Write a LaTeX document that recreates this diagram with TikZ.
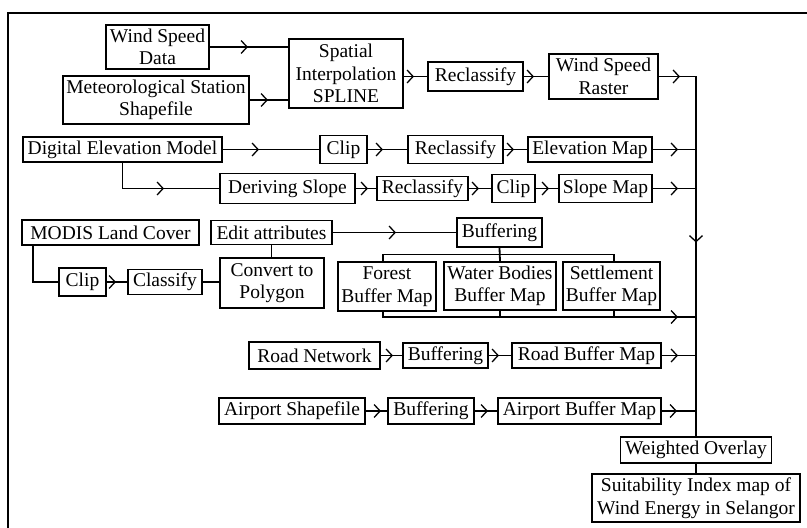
\documentclass[tikz,border=0pt]{standalone}
\usepackage{fontspec}
\setmainfont{Liberation Serif}
\usetikzlibrary{arrows.meta,decorations.markings,calc}
\tikzset{
  box/.style={draw, line width=1.9pt, inner sep=0pt, align=center, font=\fontsize{19.5}{22.5}\selectfont},
  conn/.style={line width=1.8pt, line cap=rect},
  chev/.style={decoration={markings, mark=at position #1 with {\arrow{Straight Barb[length=6pt,width=13pt,line width=1.3pt]}}}, postaction={decorate}},
}
\begin{document}
\begin{tikzpicture}[x=1pt,y=-1pt]
\useasboundingbox (0,0) rectangle (807,528);
% frame
\draw[line width=2.5pt, line join=miter] (807,13) -- (8,13) -- (8,528);

% row 1
\node[box, minimum width=103pt, minimum height=44pt] (wsd) at (157.5,47) {Wind Speed\\Data};
\node[box, minimum width=186pt, minimum height=48pt] (met) at (156,100) {Meteorological Station\\Shapefile};
\node[box, minimum width=114pt, minimum height=69pt] (spl) at (346,73.5) {Spatial\\Interpolation\\SPLINE};
\node[box, minimum width=95pt, minimum height=29pt] (rc1) at (475.5,76.5) {Reclassify};
\node[box, minimum width=109pt, minimum height=45pt] (wsr) at (603.5,76.5) {Wind Speed\\Raster};
\coordinate (bustop) at (696,76.5);

% row 2
\node[box, minimum width=199pt, minimum height=25pt] (dem) at (122.5,149.5) {Digital Elevation Model};
\node[box, minimum width=47pt, minimum height=28pt] (clip1) at (343.5,149.5) {Clip};
\node[box, minimum width=95pt, minimum height=28pt] (rc2) at (455.5,149.5) {Reclassify};
\node[box, minimum width=124pt, minimum height=25pt] (elev) at (590,149.5) {Elevation Map};

% row 3
\node[box, minimum width=135pt, minimum height=30pt] (slope) at (287.5,188.5) {Deriving Slope};
\node[box, minimum width=91pt, minimum height=24pt] (rc3) at (422.5,188.5) {Reclassify};
\node[box, minimum width=43pt, minimum height=28pt] (clip2) at (513.5,188.5) {Clip};
\node[box, minimum width=93pt, minimum height=28pt] (slopemap) at (605.5,188.5) {Slope Map};

% row 4
\node[box, minimum width=177pt, minimum height=25pt] (modis) at (110.5,232.5) {MODIS Land Cover};
\node[box, minimum width=121pt, minimum height=24pt] (edit) at (271.5,232.5) {Edit attributes};
\node[box, minimum width=85pt, minimum height=29pt] (buf1) at (499.5,232.5) {Buffering};

\node[box, minimum width=47pt, minimum height=28pt] (clip3) at (82.5,282) {Clip};
\node[box, minimum width=74pt, minimum height=25pt] (classify) at (165,282) {Classify};
\node[box, minimum width=104pt, minimum height=50pt] (conv) at (272,283) {Convert to\\Polygon};
\node[box, minimum width=98pt, minimum height=49pt] (forest) at (387,286.5) {Forest\\Buffer Map};
\node[box, minimum width=112pt, minimum height=48pt] (water) at (500,286) {Water Bodies\\Buffer Map};
\node[box, minimum width=97pt, minimum height=48pt] (settle) at (611.5,286) {Settlement\\Buffer Map};
\coordinate (bt) at (499.5,254.5);
\coordinate (bbend) at (696,317);

% road / airport
\node[box, minimum width=131pt, minimum height=27pt] (road) at (314.5,355.5) {Road Network};
\node[box, minimum width=85pt, minimum height=25pt] (buf2) at (445.5,355.5) {Buffering};
\node[box, minimum width=149pt, minimum height=25pt] (roadmap) at (586.5,355.5) {Road Buffer Map};

\node[box, minimum width=146pt, minimum height=26pt] (airport) at (292,411) {Airport Shapefile};
\node[box, minimum width=86pt, minimum height=26pt] (buf3) at (431,411) {Buffering};
\node[box, minimum width=163pt, minimum height=26pt] (airmap) at (579.5,411) {Airport Buffer Map};

% output
\node[box, minimum width=151pt, minimum height=26pt] (wo) at (696,450) {Weighted Overlay};
\node[box, minimum width=208pt, minimum height=48pt] (suit) at (696,498) {Suitability Index map of\\Wind Energy in Selangor};

% connectors row 1
\draw[conn, chev=38pt] (wsd.east) -- (wsd.east -| spl.west);
\draw[conn, chev=18pt] (met.east) -- (met.east -| spl.west);
\draw[conn, chev=10pt] (rc1.west -| spl.east) -- (rc1.west);
\draw[conn, chev=10pt] (rc1.east) -- (wsr.west);
\draw[conn, chev=-16pt] (wsr.east) -- (bustop);
\draw[conn, chev=166pt] (bustop) -- (wo.north);

% row 2
\draw[conn, chev=36pt] (dem.east) -- (clip1.west);
\draw[conn, chev=15pt] (clip1.east) -- (rc2.west);
\draw[conn, chev=10pt] (rc2.east) -- (elev.west);
\draw[conn, chev=-18pt] (elev.east) -- (elev.east -| bustop);

% row 3
\draw[conn, chev=67pt] (dem.south) |- (slope.west);
\draw[conn, chev=12pt] (slope.east) -- (rc3.west);
\draw[conn, chev=10pt] (rc3.east) -- (clip2.west);
\draw[conn, chev=13pt] (clip2.east) -- (slopemap.west);
\draw[conn, chev=-18pt] (slopemap.east) -- (slopemap.east -| bustop);

% row 4
\draw[conn, chev=63pt] (edit.east) -- (buf1.west);
\draw[conn] ([xshift=12pt]modis.south west) |- (clip3.west);
\draw[conn, chev=9pt] (clip3.east) -- (classify.west);
\draw[conn] (classify.east) -- (classify.east -| conv.west);
\draw[conn] (edit.south) -- (edit.south |- conv.north);
\draw[conn] (buf1.south) -- (water.north);
\draw[conn] ([xshift=-4pt]forest.north) |- ([xshift=2.5pt]settle.north |- bt) -- ([xshift=2.5pt]settle.north);
\draw[conn, chev=-18pt] ([xshift=-4pt]forest.south) |- (bbend);
\draw[conn] (water.south) -- (water.south |- bbend);
\draw[conn] ([xshift=2.5pt]settle.south) -- ([xshift=2.5pt]settle.south |- bbend);

% road / airport
\draw[conn, chev=12pt] (road.east) -- (buf2.west);
\draw[conn, chev=10pt] (buf2.east) -- (roadmap.west);
\draw[conn, chev=-18pt] (roadmap.east) -- (roadmap.east -| bustop);
\draw[conn, chev=15pt] (airport.east) -- (buf3.west);
\draw[conn, chev=13pt] (buf3.east) -- (airmap.west);
\draw[conn, chev=-19pt] (airmap.east) -- (airmap.east -| bustop);

\draw[conn] (wo.south) -- (suit.north);
\end{tikzpicture}
\end{document}
